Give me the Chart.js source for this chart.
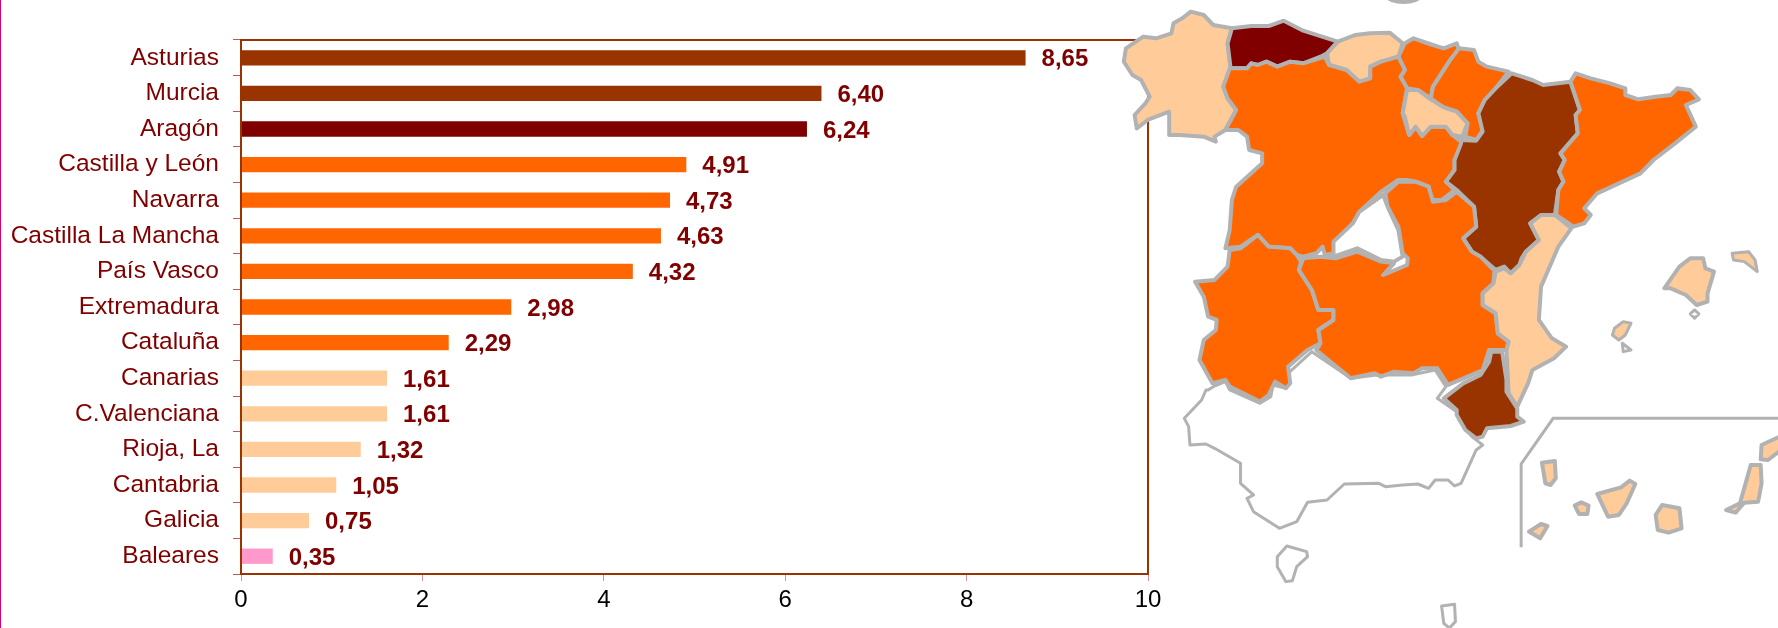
<!DOCTYPE html>
<html lang="es"><head><meta charset="utf-8">
<style>
html,body{margin:0;padding:0;background:#fff;width:1778px;height:628px;overflow:hidden}
#wrap{position:relative;width:1778px;height:628px}
#edge{position:absolute;left:0;top:0;width:1px;height:628px;background:#d4007a}
canvas{position:absolute;left:0;top:0}
svg{position:absolute;left:0;top:0}
svg polygon,svg polyline,svg ellipse{vector-effect:non-scaling-stroke}
svg .r{stroke:#b2b2b2;stroke-width:4;stroke-linejoin:round}
svg .t{stroke:#b2b2b2;stroke-width:3;stroke-linejoin:round;fill:#fff}
svg .p{fill:#ffcc99}
</style>
<script src="https://cdn.jsdelivr.net/npm/chart.js@4"></script>
</head><body><div id="wrap">
<canvas id="c" width="1778" height="628"></canvas>
<svg width="1778" height="628" viewBox="0 0 1778 628" xmlns="http://www.w3.org/2000/svg">
<g transform="translate(1100,340) scale(0.4324,0.3333)">
<polygon class="t" points="250,150 262,140 290,125 300,150 370,190 395,170 400,135 430,145 435,100 490,35 580,115 640,105 720,105 775,90 800,140 780,175 825,215 830,240 860,290 885,315 870,330 835,430 820,438 805,420 775,420 760,445 735,432 700,435 660,440 645,430 565,432 525,480 480,487 455,545 415,565 355,515 340,475 355,465 325,430 325,370 265,325 245,312 208,315 205,260 195,235 235,180 245,150"/>
</g>
<g transform="translate(1100,0) scale(0.4324,0.3333)">
<ellipse cx="702" cy="-8" rx="40" ry="20" fill="#b2b2b2"/>
<polygon class="r p" points="210,35 240,45 262,75 305,85 295,130 302,205 285,260 295,295 315,330 290,390 265,410 268,425 240,410 185,405 160,405 160,335 110,360 85,385 80,345 105,310 115,290 95,240 75,225 55,185 60,145 100,110 130,115 165,100 170,70 190,55"/>
<polygon class="r" fill="#800000" points="305,85 350,78 390,78 425,62 470,92 550,125 525,160 510,170 470,190 440,185 410,200 385,185 365,195 350,190 340,205 302,205 295,130"/>
<polygon class="r p" points="550,125 590,105 625,100 670,98 700,130 690,170 650,185 625,200 625,235 600,245 570,210 530,195 525,160"/>
<polygon class="r" fill="#ff6600" points="705,130 725,115 770,135 795,145 825,130 830,150 810,180 790,220 770,260 765,295 735,270 710,265 695,230 705,210 690,170"/>
<polygon class="r" fill="#ff6600" points="830,145 865,150 875,185 895,200 945,215 915,265 890,300 875,340 885,390 870,420 845,410 850,370 825,335 790,320 765,295 770,260 790,220 810,180"/>
<polygon class="r" fill="#ff6600" points="305,205 340,205 350,190 365,195 385,185 410,200 440,185 470,190 520,170 530,195 570,210 600,245 625,235 625,200 650,185 690,170 705,210 695,230 710,265 700,340 715,405 730,380 745,408 765,380 800,380 815,405 835,425 835,440 820,480 820,510 800,545 820,570 790,600 765,600 760,560 730,545 710,540 690,540 650,575 600,635 585,670 545,725 540,760 520,765 515,740 500,760 470,770 455,765 440,745 390,740 365,705 325,740 290,745 300,690 305,600 315,560 375,490 375,460 345,450 340,410 320,390 290,390 315,330 295,295 285,260 300,205"/>
<polygon class="r p" points="710,270 735,270 765,298 795,322 825,335 850,370 838,410 815,405 800,380 765,380 745,408 730,380 715,405 705,350 700,340"/>
<polygon class="r" fill="#993300" points="952,220 1000,240 1025,255 1088,245 1110,330 1100,345 1105,400 1065,460 1075,480 1062,515 1072,545 1060,570 1052,645 1020,645 995,670 1015,720 985,755 975,775 970,795 950,820 935,800 915,810 880,770 860,755 840,715 870,680 865,620 825,570 800,545 820,510 820,480 835,430 835,420 870,422 885,395 875,340 890,300 915,265"/>
<polygon class="r" fill="#ff6600" points="1100,220 1135,235 1180,250 1215,265 1215,285 1245,298 1285,290 1320,285 1335,265 1365,270 1385,298 1355,315 1378,380 1330,430 1280,480 1250,520 1150,580 1120,625 1135,645 1120,670 1095,680 1055,645 1060,570 1072,545 1062,515 1075,480 1065,460 1105,400 1100,345 1110,330 1088,245"/>
<polygon class="r" fill="#ff6600" points="300,750 325,745 365,705 390,740 440,745 455,765 465,785 460,810 490,870 505,930 540,930 540,960 505,990 510,1030 480,1050 435,1100 440,1150 430,1165 405,1145 390,1185 370,1205 300,1160 290,1140 260,1150 230,1080 240,1020 268,990 270,960 250,950 240,890 220,845 265,840 295,800"/>
<polygon class="r" fill="#ff6600" points="470,775 510,770 545,775 595,755 650,785 680,790 655,825 710,795 712,775 700,760 690,680 665,620 660,580 690,545 730,545 760,560 770,605 800,600 825,575 865,620 870,680 840,715 860,755 880,770 912,812 910,850 885,880 885,915 915,940 920,1000 945,1025 940,1050 900,1050 885,1110 850,1130 805,1155 780,1105 745,1105 725,1120 680,1115 650,1130 635,1120 580,1135 500,1050 510,1030 505,990 540,960 540,930 505,930 490,870 460,810"/>
<polygon class="r" fill="#ffffff" points="655,585 665,620 690,690 700,770 680,785 650,780 595,745 540,770 540,725 585,670 600,635"/>
<polygon class="r p" points="1020,645 1052,645 1090,685 1060,740 1020,860 1015,960 1045,1015 1078,1040 1050,1075 1000,1110 990,1150 965,1220 945,1180 940,1050 945,1025 920,1000 915,940 885,915 885,880 910,850 915,815 935,805 950,820 970,795 985,755 1015,720 995,670"/>
<polygon class="r p" points="1365,775 1395,775 1400,805 1420,815 1405,880 1405,905 1380,915 1355,885 1320,865 1305,865 1340,800"/>
<polygon class="t p" points="1462,760 1500,755 1515,780 1520,815 1490,785 1465,780"/>
<polygon class="t p" points="1210,965 1228,970 1215,1005 1200,1020 1185,1005 1190,985"/>
<polygon class="t" points="1208,1030 1228,1050 1210,1055"/>
<polygon class="t" points="1375,930 1385,942 1375,955 1365,942"/>
</g>
<g transform="translate(1100,340) scale(0.4324,0.3333)">
<polygon class="r" fill="#993300" points="905,35 930,35 940,120 940,155 965,205 965,230 980,245 950,258 895,265 885,290 870,295 845,270 825,225 825,210 795,175 840,130 880,105 900,65"/>
<polygon class="t" points="432,618 478,635 480,650 455,680 445,722 430,725 410,680 410,650"/>
<polygon class="t" points="790,798 820,793 822,845 808,864 795,850"/>
<polyline fill="none" stroke="#b2b2b2" stroke-width="3" points="974,622 974,372 1048,235 1568,235"/>
<polygon class="r p" points="992,575 1020,552 1035,558 1018,595"/>
<polygon class="r p" points="1098,497 1113,487 1130,497 1127,522 1108,522"/>
<polygon class="r p" points="1022,368 1052,363 1054,415 1042,435 1030,430"/>
<polygon class="r p" points="1150,462 1205,442 1225,422 1238,432 1218,490 1200,525 1175,530"/>
<polygon class="r p" points="1300,495 1340,505 1345,565 1315,578 1290,570 1285,525"/>
<polygon class="r p" points="1505,375 1528,375 1530,430 1522,485 1490,488 1470,518 1448,510 1480,490"/>
<polygon class="r p" points="1580,285 1530,315 1528,358 1545,360 1580,325"/>
</g>
</svg>
</div>
<div id="edge"></div>
<script>
const categories = ["Asturias","Murcia","Aragón","Castilla y León","Navarra","Castilla La Mancha","País Vasco","Extremadura","Cataluña","Canarias","C.Valenciana","Rioja, La","Cantabria","Galicia","Baleares"];
const values = [8.65,6.40,6.24,4.91,4.73,4.63,4.32,2.98,2.29,1.61,1.61,1.32,1.05,0.75,0.35];
const xTicks = [0,2,4,6,8,10];
const barColors = ["#993300","#993300","#800000","#ff6600","#ff6600","#ff6600","#ff6600","#ff6600","#ff6600","#ffcc99","#ffcc99","#ffcc99","#ffcc99","#ffcc99","#ff99cc"];

const FONT = '"Liberation Sans", Arial, sans-serif';
const valueLabels = {
  id:'valueLabels',
  afterDatasetsDraw(chart){
    const {ctx} = chart;
    ctx.save();
    ctx.font = 'bold 24px ' + FONT;
    ctx.fillStyle = '#800000';
    ctx.textAlign = 'left';
    ctx.textBaseline = 'middle';
    chart.getDatasetMeta(0).data.forEach((el,i)=>{
      ctx.fillText(values[i].toFixed(2).replace('.',','), el.x + 16, el.y + 2);
    });
    ctx.restore();
  }
};
const frame = {
  id:'frame',
  afterDraw(chart){
    const {ctx,chartArea:a} = chart;
    ctx.save();
    ctx.strokeStyle = '#993300';
    ctx.lineWidth = 2;
    ctx.strokeRect(a.left,a.top,a.right-a.left,a.bottom-a.top);
    ctx.restore();
  }
};
new Chart(document.getElementById('c'),{
  type:'bar',
  data:{labels:categories,datasets:[{data:values,backgroundColor:barColors,borderWidth:0,categoryPercentage:1,barPercentage:0.43}]},
  options:{
    indexAxis:'y',responsive:false,animation:false,
    layout:{padding:{top:40,right:630,bottom:0,left:0}},
    plugins:{legend:{display:false},tooltip:{enabled:false},title:{display:false}},
    scales:{
      x:{min:0,max:10,position:'bottom',
        afterFit(s){s.height=54;},
        afterBuildTicks(s){s.ticks=xTicks.map(v=>({value:v}));},
        border:{display:true,color:'#993300',width:2},
        grid:{drawOnChartArea:false,drawTicks:true,tickLength:7,color:'#d89090'},
        ticks:{color:'#000',font:{family:FONT,size:24},padding:5,maxRotation:0}},
      y:{position:'left',
        afterFit(s){s.width=241;},
        border:{display:true,color:'#993300',width:2},
        grid:{offset:true,drawOnChartArea:false,drawTicks:true,tickLength:8,color:'#b85a5a'},
        ticks:{color:'#800000',font:{family:FONT,size:24.5},padding:14,autoSkip:false}}
    }
  },
  plugins:[valueLabels,frame]
});
</script>
</body></html>
